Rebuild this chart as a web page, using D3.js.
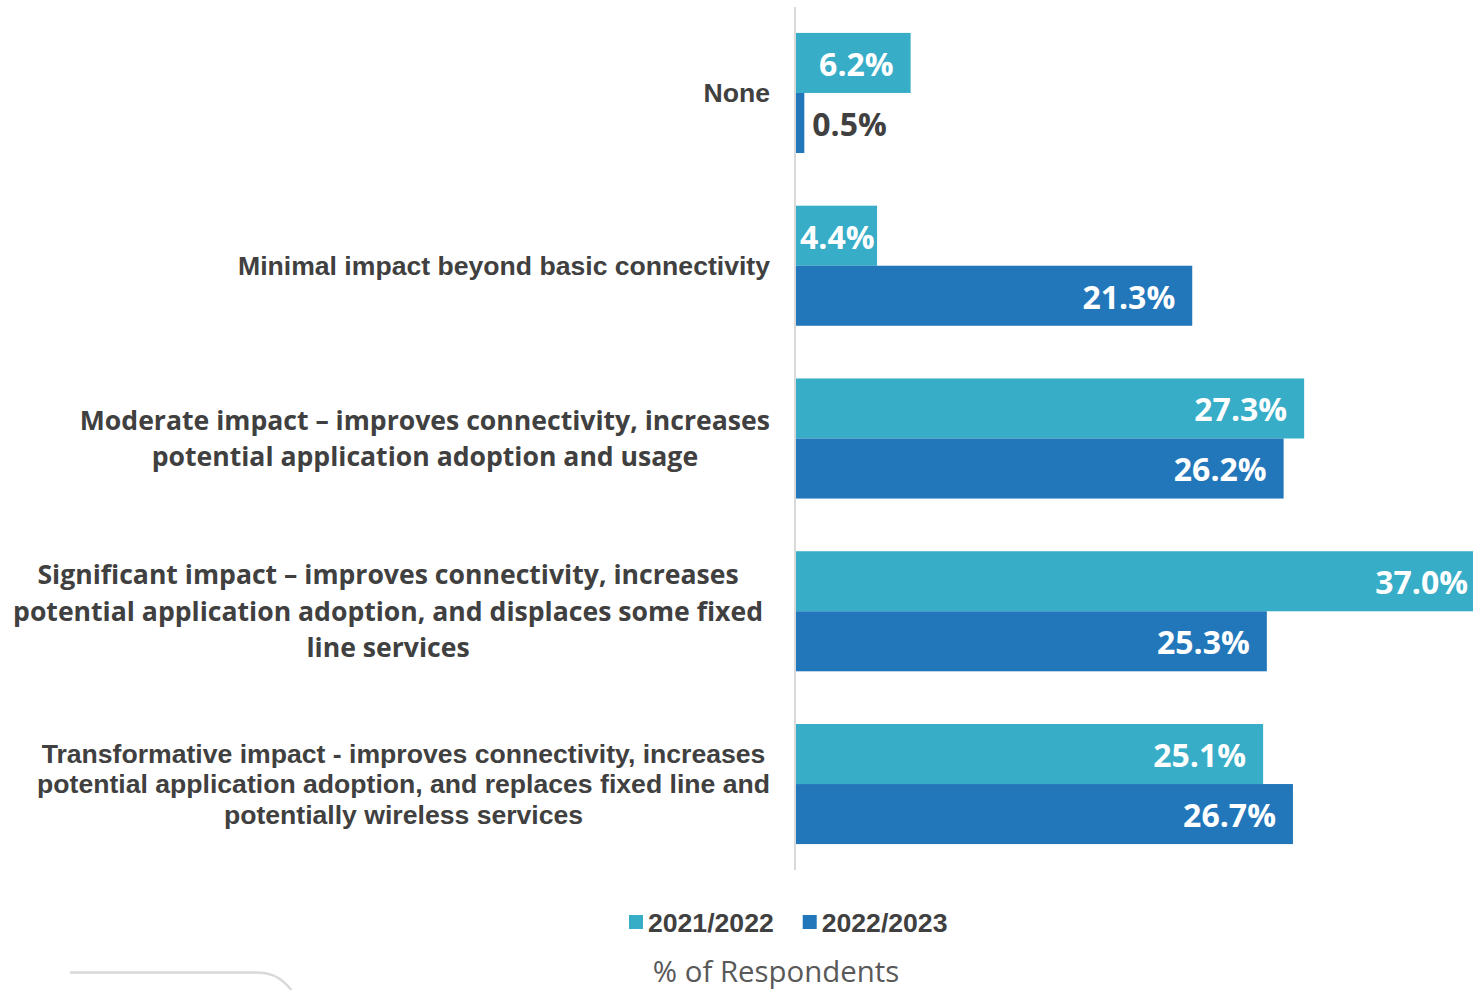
<!DOCTYPE html>
<html>
<head>
<meta charset="utf-8">
<script src="https://cdn.jsdelivr.net/npm/d3@7"></script>
<style>
  body { margin: 0; background: #fff; }
  svg { display: block; }
</style>
</head>
<body>
<div id="chart"></div>
<script>
// Categories, one label line per entry
const categories = [
  ["None"],
  ["Minimal impact beyond basic connectivity"],
  ["Moderate impact \u2013 improves connectivity, increases", "potential application adoption and usage"],
  ["Significant impact \u2013 improves connectivity, increases", "potential application adoption, and displaces some fixed", "line services"],
  ["Transformative impact - improves connectivity, increases", "potential application adoption, and replaces fixed line and", "potentially wireless services"]
];
const series = ["2021/2022", "2022/2023"];
const values2122 = [6.2, 4.4, 27.3, 37.0, 25.1];
const values2223 = [0.5, 21.3, 26.2, 25.3, 26.7];
const axisTitle = "% of Respondents";

function draw(container) {
  const width = 1473;
  const height = 990;
  const colors = ["#37adc8", "#2277bb"];
  const textColor = "#404040";

  // labels 3 and 4 are set in Open Sans, the rest in Arial
  const labelFont = (i) => (i === 2 || i === 3)
    ? {family: "'Open Sans', sans-serif", size: 26.6, lead: 36.5, right: i === 3 ? 763 : 770}
    : {family: "'Liberation Sans', Arial, sans-serif", size: 26.6, lead: 30.5, right: 770};

  const rows = categories.map((c, i) => ({i: i, lines: c, vals: [values2122[i], values2223[i]]}));

  const x = d3.scaleLinear().domain([0, 40]).range([795, 795 + 40 * 18.65]);
  const y = d3.scaleBand().domain(d3.range(categories.length)).range([7, 870])
    .paddingInner(0.305).paddingOuter(0.15);
  const ySub = d3.scaleBand().domain(d3.range(series.length)).range([0, y.bandwidth()]);

  const svg = d3.select(container).append("svg")
    .attr("width", width)
    .attr("height", height);

  // bars
  const grp = svg.append("g").selectAll("g")
    .data(rows)
    .join("g")
      .attr("transform", d => `translate(0,${y(d.i)})`);

  grp.selectAll("rect")
    .data(d => d.vals.map((v, s) => ({v: v, s: s})))
    .join("rect")
      .attr("x", x(0))
      .attr("y", d => ySub(d.s))
      .attr("width", d => x(d.v) - x(0))
      .attr("height", ySub.bandwidth())
      .attr("fill", d => colors[d.s]);

  // value labels
  grp.selectAll("text.val")
    .data(d => d.vals.map((v, s) => ({v: v, s: s})))
    .join("text")
      .attr("class", "val")
      .attr("y", d => ySub(d.s) + ySub.bandwidth() / 2)
      .attr("dy", "0.4em")
      .attr("font-family", "'Open Sans', sans-serif")
      .attr("font-weight", 700)
      .attr("font-size", 32)
      .text(d => d.v.toFixed(1) + "%")
      .each(function(d) {
        const t = d3.select(this);
        const w = this.getComputedTextLength();
        const barW = x(d.v) - x(0);
        if (barW < 40) {
          t.attr("x", x(d.v) + 8).attr("text-anchor", "start").attr("fill", textColor);
        } else {
          t.attr("x", Math.max(x(d.v) - 17, x(0) + 5 + w)).attr("text-anchor", "end").attr("fill", "#fff");
        }
      });

  // axis line
  svg.append("line")
    .attr("x1", x(0)).attr("x2", x(0))
    .attr("y1", y.range()[0]).attr("y2", y.range()[1])
    .attr("stroke", "#d9d9d9")
    .attr("stroke-width", 2);

  // category labels, centred block that ends at the right edge
  rows.forEach(r => {
    const f = labelFont(r.i);
    const g = svg.append("g");
    const cy = y(r.i) + y.bandwidth() / 2;
    const n = r.lines.length;
    const texts = r.lines.map((line, k) => g.append("text")
      .attr("y", cy + (k - (n - 1) / 2) * f.lead)
      .attr("dy", "0.35em")
      .attr("text-anchor", "middle")
      .attr("font-family", f.family)
      .attr("font-weight", 700)
      .attr("font-size", f.size)
      .attr("fill", textColor)
      .text(line));
    const maxW = d3.max(texts, t => t.node().getComputedTextLength());
    texts.forEach(t => t.attr("x", f.right - maxW / 2));
  });

  // legend
  const legend = svg.append("g").attr("transform", "translate(629,922)");
  let lx = 0;
  series.forEach((s, i) => {
    legend.append("rect")
      .attr("x", lx).attr("y", -7)
      .attr("width", 14).attr("height", 14)
      .attr("fill", colors[i]);
    const t = legend.append("text")
      .attr("x", lx + 19)
      .attr("dy", "0.36em")
      .attr("font-family", "'Liberation Sans', Arial, sans-serif")
      .attr("font-weight", 700)
      .attr("font-size", 26.6)
      .attr("fill", textColor)
      .text(s);
    lx += 19 + t.node().getComputedTextLength() + 29;
  });

  // axis title
  svg.append("text")
    .attr("x", 776)
    .attr("y", 982)
    .attr("text-anchor", "middle")
    .attr("font-family", "'Open Sans', sans-serif")
    .attr("font-size", 29.4)
    .attr("fill", "#595959")
    .text(axisTitle);

  // edge of a neighbouring rounded panel
  svg.append("path")
    .attr("d", "M70,972.5 H258 A40,40 0 0 1 298,1012")
    .attr("fill", "none")
    .attr("stroke", "#d9d9d9")
    .attr("stroke-width", 2.5);

  return svg.node();
}

draw(document.getElementById("chart"));
</script>
</body>
</html>
